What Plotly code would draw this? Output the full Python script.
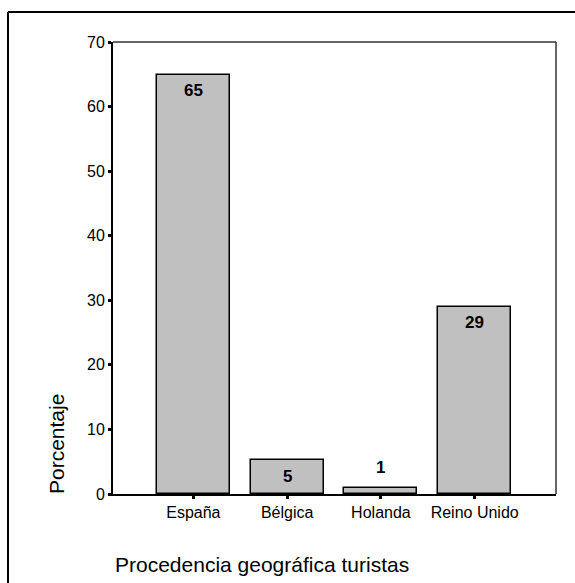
import plotly.graph_objects as go

categories = ["España", "Bélgica", "Holanda", "Reino Unido"]
values = [64.9, 5.2, 0.9, 29.0]
value_labels = ["65", "5", "1", "29"]
label_shift = [-16, -16, 21, -16]
y_ticks = [0, 10, 20, 30, 40, 50, 60, 70]

W, H = 575, 583
L, R, T, B = 113, 19, 42, 89
pw, ph = W - L - R, H - T - B

def px(x):
    return (x - L) / pw

def py(y):
    return (H - B - y) / ph

FONT = "Liberation Sans, Arial, sans-serif"

fig = go.Figure()
fig.add_trace(go.Bar(
    x=list(range(len(categories))),
    y=values,
    width=0.777,
    marker=dict(color="#c0c0c0", line=dict(color="black", width=1.5)),
    hoverinfo="skip",
))

for i, (v, lab, s) in enumerate(zip(values, value_labels, label_shift)):
    fig.add_annotation(x=i, y=v, text=f"<b>{lab}</b>", showarrow=False,
                       yshift=s, yanchor="middle", xanchor="center",
                       font=dict(family=FONT, size=17, color="black"))

fig.add_annotation(text="Procedencia geográfica turistas", xref="paper", yref="paper",
                   x=0, y=py(564), xanchor="left", yanchor="middle", showarrow=False,
                   font=dict(family=FONT, size=21, color="black"))
fig.add_annotation(text="Porcentaje", xref="paper", yref="paper", textangle=-90,
                   x=px(57), y=py(496), xanchor="center", yanchor="bottom", showarrow=False,
                   font=dict(family=FONT, size=21, color="black"))

# plot frame (top and right)
fig.add_shape(type="line", xref="paper", yref="paper", x0=0, x1=1, y0=1, y1=1,
              line=dict(color="#333333", width=1.5))
fig.add_shape(type="line", xref="paper", yref="paper", x0=1, x1=1, y0=0, y1=1,
              line=dict(color="#333333", width=1.5))
# outer frame (top and left)
fig.add_shape(type="line", xref="paper", yref="paper", x0=px(8), x1=px(600), y0=py(12), y1=py(12),
              line=dict(color="black", width=2))
fig.add_shape(type="line", xref="paper", yref="paper", x0=px(8), x1=px(8), y0=py(12), y1=py(600),
              line=dict(color="black", width=2))

fig.update_xaxes(
    range=[-0.857, 3.867],
    tickmode="array", tickvals=list(range(len(categories))), ticktext=categories,
    ticks="outside", ticklen=3, tickwidth=3, tickcolor="black",
    showline=True, linecolor="black", linewidth=2,
    showgrid=False, zeroline=False,
    tickfont=dict(family=FONT, size=16, color="black"),
)
fig.update_yaxes(
    range=[0, 70],
    tickmode="array", tickvals=y_ticks,
    ticks="outside", ticklen=3, tickwidth=3, tickcolor="black",
    showline=True, linecolor="black", linewidth=2,
    showgrid=False, zeroline=False,
    tickfont=dict(family=FONT, size=16, color="black"),
)
fig.update_layout(
    width=W, height=H,
    margin=dict(l=L, r=R, t=T, b=B, pad=0),
    paper_bgcolor="white", plot_bgcolor="white",
    showlegend=False, bargap=0,
)
fig.write_html("out.html", include_plotlyjs=True, config={"displayModeBar": False})
